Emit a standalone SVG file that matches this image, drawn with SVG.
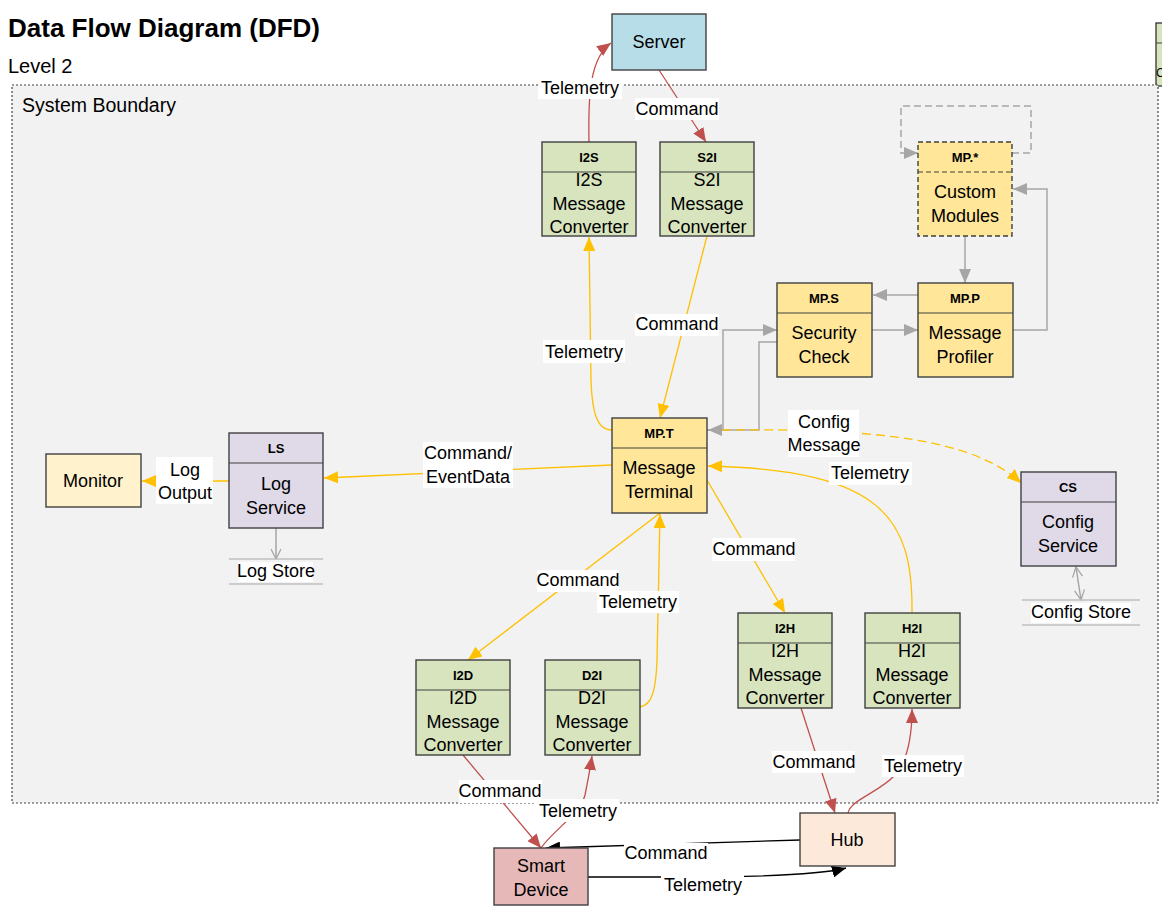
<svg xmlns="http://www.w3.org/2000/svg" width="1162" height="912" viewBox="0 0 1162 912">
<style>
text{font-family:"Liberation Sans",Arial,sans-serif;fill:#000}
.t{font-size:18px;text-anchor:middle}
.h{font-size:13px;font-weight:bold;text-anchor:middle}
.box{stroke:#404040;stroke-width:1.4}
.div{stroke:#404040;stroke-width:1.2}
.green{fill:#d7e4bd}
.yel{fill:#ffe699}
.lav{fill:#dfd9e8}
.bg{fill:#fff}
.co{fill:none;stroke:#ffc000;stroke-width:1.3}
.cr{fill:none;stroke:#c0504d;stroke-width:1.3}
.cg{fill:none;stroke:#a6a6a6;stroke-width:1.5}
.cb{fill:none;stroke:#000;stroke-width:1.3}
.store{stroke:#bfbfbf;stroke-width:1.5}
</style>
<defs>
<marker id="ao" viewBox="0 0 14 12" refX="14" refY="6" markerWidth="14" markerHeight="12" orient="auto" markerUnits="userSpaceOnUse"><path d="M0,0 L14,6 L0,12 z" fill="#ffc000"/></marker>
<marker id="ar" viewBox="0 0 14 12" refX="14" refY="6" markerWidth="14" markerHeight="12" orient="auto" markerUnits="userSpaceOnUse"><path d="M0,0 L14,6 L0,12 z" fill="#c0504d"/></marker>
<marker id="ag" viewBox="0 0 14 12" refX="14" refY="6" markerWidth="14" markerHeight="12" orient="auto" markerUnits="userSpaceOnUse"><path d="M0,0 L14,6 L0,12 z" fill="#a6a6a6"/></marker>
<marker id="ab" viewBox="0 0 14 12" refX="14" refY="6" markerWidth="14" markerHeight="12" orient="auto" markerUnits="userSpaceOnUse"><path d="M0,0 L14,6 L0,12 z" fill="#000"/></marker>
<marker id="av" viewBox="0 0 12 12" refX="11" refY="6" markerWidth="12" markerHeight="12" orient="auto-start-reverse" markerUnits="userSpaceOnUse"><path d="M1,1 L11,6 L1,11" fill="none" stroke="#a6a6a6" stroke-width="1.3"/></marker>
</defs>

<rect width="1162" height="912" fill="#fff"/>

<g id="title">
<text x="8" y="37" font-size="26" font-weight="bold">Data Flow Diagram (DFD)</text>
<text x="8" y="73" font-size="20">Level 2</text>
</g>

<g id="partial-node">
<rect class="box green" x="1156" y="23" width="40" height="63"/>
<line class="div" x1="1156" y1="43" x2="1196" y2="43"/>
<text x="1156" y="77" font-size="12">C</text>
</g>

<g id="system-boundary">
<rect x="12" y="85" width="1146" height="718" fill="#f2f2f2" stroke="#404040" stroke-width="1.2" stroke-dasharray="2,2"/>
<text x="22" y="112" font-size="19.5">System Boundary</text>
</g>

<g id="connectors">
<path class="cr" d="M589,142 C588,95 590,58 611,43" marker-end="url(#ar)"/>
<path class="cr" d="M659,70 L706,142" marker-end="url(#ar)"/>
<path class="co" d="M707,236 L660,418" marker-end="url(#ao)"/>
<path class="co" d="M612,430 C596,430 592,410 591,380 L589,237" marker-end="url(#ao)"/>
<path class="cg" d="M707,430 L723,430 L723,330 L777,330" marker-end="url(#ag)"/>
<path class="cg" d="M777,342 L759,342 L759,430 L708,430" marker-end="url(#ag)"/>
<path class="cg" d="M872,330 L918,330" marker-end="url(#ag)"/>
<path class="cg" d="M918,295 L873,295" marker-end="url(#ag)"/>
<path class="cg" d="M1013,330 L1047,330 L1047,189 L1013,189" marker-end="url(#ag)"/>
<path class="cg" d="M965,236 L965,283" marker-end="url(#ag)"/>
<path class="cg" d="M1012,153 L1031,153 L1031,106 L901,106 L901,153 L918,153" stroke="#bfbfbf" stroke-dasharray="7,4" marker-end="url(#ag)"/>
<path class="co" d="M722,430 C880,428 975,440 1021,483" stroke-dasharray="9,5" marker-end="url(#ao)"/>
<path class="co" d="M912,613 C913,520 885,470 708,466" marker-end="url(#ao)"/>
<path class="co" d="M612,465 L324,478" marker-end="url(#ao)"/>
<path class="co" d="M229,481 L142,481" marker-end="url(#ao)"/>
<path class="cg" d="M276,528 L276,559" marker-end="url(#av)"/>
<path class="co" d="M707,480 L785,613" marker-end="url(#ao)"/>
<path class="co" d="M660,513 L468,660" marker-end="url(#ao)"/>
<path class="co" d="M640,707 C652,705 656,690 657,660 L660,514" marker-end="url(#ao)"/>
<path class="cr" d="M463,755 L541,848" marker-end="url(#ar)"/>
<path class="cr" d="M541,848 C555,828 580,815 585,795 C588,780 590,770 592,756" marker-end="url(#ar)"/>
<path class="cr" d="M801,708 L835,813" marker-end="url(#ar)"/>
<path class="cr" d="M848,813 C850,800 880,792 895,775 C908,760 912,735 912,709" marker-end="url(#ar)"/>
<path class="cb" d="M800,840 L546,848" marker-end="url(#ab)"/>
<path class="cb" d="M588,877 L680,877 C760,877 820,875 846,868" marker-end="url(#ab)"/>
<path class="cg" d="M1076,567 L1081,600" stroke-width="1.2" marker-start="url(#av)" marker-end="url(#av)"/>

<g id="labels">
<rect class="bg" x="538" y="78" width="84" height="21"/><text class="t" x="580" y="94">Telemetry</text>
<rect class="bg" x="635" y="98" width="84" height="22"/><text class="t" x="677" y="115">Command</text>
<rect class="bg" x="543" y="340" width="82" height="23"/><text class="t" x="584" y="358">Telemetry</text>
<rect class="bg" x="635" y="314" width="84" height="22"/><text class="t" x="677" y="330">Command</text>
<rect class="bg" x="788" y="410" width="71" height="47"/><text class="t" x="824" y="428">Config</text><text class="t" x="824" y="451">Message</text>
<rect class="bg" x="829" y="462" width="83" height="23"/><text class="t" x="870" y="479">Telemetry</text>
<rect class="bg" x="423" y="442" width="90" height="46"/><text class="t" x="468" y="459">Command/</text><text class="t" x="468" y="483">EventData</text>
<rect class="bg" x="156" y="457" width="57" height="47"/><text class="t" x="185" y="476">Log</text><text class="t" x="185" y="499">Output</text>
<rect class="bg" x="537" y="570" width="82" height="22"/><text class="t" x="578" y="586">Command</text>
<rect class="bg" x="597" y="591" width="82" height="22"/><text class="t" x="638" y="608">Telemetry</text>
<rect class="bg" x="712" y="538" width="83" height="23"/><text class="t" x="754" y="555">Command</text>
<rect class="bg" x="459" y="780" width="83" height="23"/><text class="t" x="500" y="797">Command</text>
<rect class="bg" x="536" y="799" width="83" height="23"/><text class="t" x="578" y="817">Telemetry</text>
<rect class="bg" x="772" y="751" width="83" height="22"/><text class="t" x="814" y="768">Command</text>
<rect class="bg" x="882" y="755" width="82" height="22"/><text class="t" x="923" y="772">Telemetry</text>
<rect class="bg" x="624" y="843" width="84" height="20"/><text class="t" x="666" y="859">Command</text>
<rect class="bg" x="661" y="875" width="83" height="20"/><text class="t" x="703" y="891">Telemetry</text>
</g>
</g>

<g id="Server">
<rect class="box" x="612" y="14" width="94" height="56" fill="#b7dee8"/>
<text class="t" x="659" y="48">Server</text>
</g>

<g id="I2S">
<rect class="box green" x="542" y="142" width="94" height="94"/>
<line class="div" x1="542" y1="172" x2="636" y2="172"/>
<text class="h" x="589" y="162">I2S</text>
<text class="t" x="589" y="186">I2S</text><text class="t" x="589" y="210">Message</text><text class="t" x="589" y="233">Converter</text>
</g>

<g id="S2I">
<rect class="box green" x="660" y="142" width="94" height="94"/>
<line class="div" x1="660" y1="172" x2="754" y2="172"/>
<text class="h" x="707" y="162">S2I</text>
<text class="t" x="707" y="186">S2I</text><text class="t" x="707" y="210">Message</text><text class="t" x="707" y="233">Converter</text>
</g>

<g id="MP-custom">
<rect class="box yel" x="918" y="142" width="94" height="94" stroke-dasharray="5,3"/>
<line class="div" x1="918" y1="172" x2="1012" y2="172" stroke-dasharray="5,3"/>
<text class="h" x="965" y="162">MP.*</text>
<text class="t" x="965" y="198">Custom</text><text class="t" x="965" y="222">Modules</text>
</g>

<g id="MP-S">
<rect class="box yel" x="777" y="283" width="95" height="94"/>
<line class="div" x1="777" y1="313" x2="872" y2="313"/>
<text class="h" x="824" y="303">MP.S</text>
<text class="t" x="824" y="339">Security</text><text class="t" x="824" y="363">Check</text>
</g>

<g id="MP-P">
<rect class="box yel" x="918" y="283" width="95" height="94"/>
<line class="div" x1="918" y1="313" x2="1013" y2="313"/>
<text class="h" x="965" y="303">MP.P</text>
<text class="t" x="965" y="339">Message</text><text class="t" x="965" y="363">Profiler</text>
</g>

<g id="MP-T">
<rect class="box yel" x="612" y="418" width="95" height="95"/>
<line class="div" x1="612" y1="448" x2="707" y2="448"/>
<text class="h" x="659" y="438">MP.T</text>
<text class="t" x="659" y="474">Message</text><text class="t" x="659" y="498">Terminal</text>
</g>

<g id="LS">
<rect class="box lav" x="229" y="433" width="94" height="95"/>
<line class="div" x1="229" y1="463" x2="323" y2="463"/>
<text class="h" x="276" y="453">LS</text>
<text class="t" x="276" y="490">Log</text><text class="t" x="276" y="514">Service</text>
</g>

<g id="Monitor">
<rect class="box" x="46" y="454" width="95" height="53" fill="#fff2cc"/>
<text class="t" x="93" y="487">Monitor</text>
</g>

<g id="LogStore">
<line class="store" x1="229" y1="559" x2="323" y2="559"/>
<line class="store" x1="229" y1="584" x2="323" y2="584"/>
<rect class="bg" x="238" y="562" width="75" height="20"/>
<text class="t" x="276" y="577">Log Store</text>
</g>

<g id="CS">
<rect class="box lav" x="1021" y="472" width="95" height="94"/>
<line class="div" x1="1021" y1="502" x2="1116" y2="502"/>
<text class="h" x="1068" y="492">CS</text>
<text class="t" x="1068" y="528">Config</text><text class="t" x="1068" y="552">Service</text>
</g>

<g id="ConfigStore">
<line class="store" x1="1022" y1="600" x2="1140" y2="600"/>
<line class="store" x1="1022" y1="625" x2="1140" y2="625"/>
<rect class="bg" x="1031" y="603" width="100" height="20"/>
<text class="t" x="1081" y="618">Config Store</text>
</g>

<g id="I2D">
<rect class="box green" x="416" y="660" width="94" height="95"/>
<line class="div" x1="416" y1="690" x2="510" y2="690"/>
<text class="h" x="463" y="680">I2D</text>
<text class="t" x="463" y="704">I2D</text><text class="t" x="463" y="728">Message</text><text class="t" x="463" y="751">Converter</text>
</g>

<g id="D2I">
<rect class="box green" x="545" y="660" width="95" height="95"/>
<line class="div" x1="545" y1="690" x2="640" y2="690"/>
<text class="h" x="592" y="680">D2I</text>
<text class="t" x="592" y="704">D2I</text><text class="t" x="592" y="728">Message</text><text class="t" x="592" y="751">Converter</text>
</g>

<g id="I2H">
<rect class="box green" x="738" y="613" width="94" height="95"/>
<line class="div" x1="738" y1="643" x2="832" y2="643"/>
<text class="h" x="785" y="633">I2H</text>
<text class="t" x="785" y="657">I2H</text><text class="t" x="785" y="681">Message</text><text class="t" x="785" y="704">Converter</text>
</g>

<g id="H2I">
<rect class="box green" x="865" y="613" width="95" height="95"/>
<line class="div" x1="865" y1="643" x2="960" y2="643"/>
<text class="h" x="912" y="633">H2I</text>
<text class="t" x="912" y="657">H2I</text><text class="t" x="912" y="681">Message</text><text class="t" x="912" y="704">Converter</text>
</g>

<g id="SmartDevice">
<rect class="box" x="494" y="848" width="94" height="57" fill="#e6b9b8"/>
<text class="t" x="541" y="872">Smart</text><text class="t" x="541" y="896">Device</text>
</g>

<g id="Hub">
<rect class="box" x="800" y="813" width="95" height="53" fill="#fde9d9"/>
<text class="t" x="847" y="846">Hub</text>
</g>
</svg>
